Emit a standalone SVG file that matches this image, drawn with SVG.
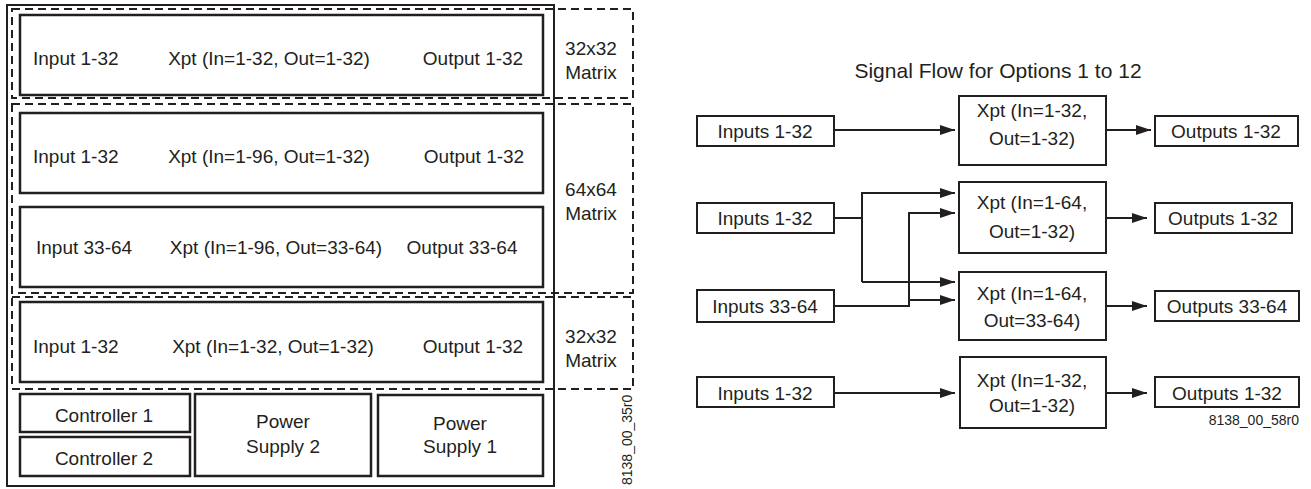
<svg xmlns="http://www.w3.org/2000/svg" width="1311" height="489" viewBox="0 0 1311 489">
<style>
text{font-family:"Liberation Sans",Arial,sans-serif;fill:#231f20}
.t{font-size:19px}
.c{text-anchor:middle}
.s{font-size:14px}
.box{fill:#fff;stroke:#231f20;stroke-width:2.5}
.frame{fill:none;stroke:#231f20;stroke-width:2}
.dash{fill:none;stroke:#231f20;stroke-width:2;stroke-dasharray:8 5}
.b{fill:#fff;stroke:#231f20;stroke-width:2}
.ln{fill:none;stroke:#231f20;stroke-width:2}
</style>
<defs>
<marker id="ah" markerWidth="15" markerHeight="10" refX="15" refY="5" orient="auto" markerUnits="userSpaceOnUse"><path d="M0,0 L15,5 L0,10 Z" fill="#231f20"/></marker>
</defs>
<rect width="1311" height="489" fill="#fff"/>

<!-- Left diagram -->
<g id="frame"><rect class="frame" x="7" y="5" width="547" height="481"/></g>
<g id="matrix1"><rect class="dash" x="12" y="9" width="621" height="89"/>
<text class="t c" x="591" y="55">32x32</text><text class="t c" x="591" y="79">Matrix</text></g>
<g id="matrix2"><rect class="dash" x="12" y="104" width="621" height="189"/>
<text class="t c" x="591" y="196">64x64</text><text class="t c" x="591" y="220">Matrix</text></g>
<g id="matrix3"><rect class="dash" x="12" y="297" width="621" height="92"/>
<text class="t c" x="591" y="343">32x32</text><text class="t c" x="591" y="367">Matrix</text></g>

<g id="row1"><rect class="box" x="20" y="15" width="523" height="80"/>
<text class="t" x="33" y="65">Input 1-32</text><text class="t c" x="269" y="65">Xpt (In=1-32, Out=1-32)</text><text class="t c" x="473" y="65">Output 1-32</text></g>
<g id="row2"><rect class="box" x="20" y="113" width="523" height="80"/>
<text class="t" x="33" y="163">Input 1-32</text><text class="t c" x="269" y="163">Xpt (In=1-96, Out=1-32)</text><text class="t c" x="474" y="163">Output 1-32</text></g>
<g id="row3"><rect class="box" x="20" y="207" width="523" height="80"/>
<text class="t" x="36" y="254">Input 33-64</text><text class="t c" x="276" y="254">Xpt (In=1-96, Out=33-64)</text><text class="t c" x="462" y="254">Output 33-64</text></g>
<g id="row4"><rect class="box" x="20" y="302" width="523" height="80"/>
<text class="t" x="33" y="353">Input 1-32</text><text class="t c" x="273" y="353">Xpt (In=1-32, Out=1-32)</text><text class="t c" x="473" y="353">Output 1-32</text></g>

<g id="controller1"><rect class="box" x="20" y="394" width="170" height="38"/><text class="t c" x="104" y="422">Controller 1</text></g>
<g id="controller2"><rect class="box" x="20" y="437" width="170" height="39"/><text class="t c" x="104" y="465">Controller 2</text></g>
<g id="ps2"><rect class="box" x="195" y="394" width="176" height="82"/><text class="t c" x="283" y="428">Power</text><text class="t c" x="283" y="453">Supply 2</text></g>
<g id="ps1"><rect class="box" x="378" y="395" width="165" height="81"/><text class="t c" x="460" y="430">Power</text><text class="t c" x="460" y="453">Supply 1</text></g>
<text class="s" transform="translate(632,485) rotate(-90)">8138_00_35r0</text>

<!-- Right diagram -->
<text id="title" style="font-size:21px" class="c" x="998" y="78">Signal Flow for Options 1 to 12</text>

<g id="connectors">
<line class="ln" x1="834" y1="130" x2="955" y2="130" marker-end="url(#ah)"/>
<line class="ln" x1="1106" y1="130" x2="1151" y2="130" marker-end="url(#ah)"/>
<polyline class="ln" points="834,218 862,218"/>
<polyline class="ln" points="862,282 862,193 955,193" marker-end="url(#ah)"/>
<line class="ln" x1="862" y1="282" x2="955" y2="282" marker-end="url(#ah)"/>
<polyline class="ln" points="834,306 909,306 909,213 955,213" marker-end="url(#ah)"/>
<line class="ln" x1="909" y1="300" x2="955" y2="300" marker-end="url(#ah)"/>
<line class="ln" x1="1106" y1="218" x2="1147" y2="218" marker-end="url(#ah)"/>
<line class="ln" x1="1106" y1="306" x2="1147" y2="306" marker-end="url(#ah)"/>
<line class="ln" x1="834" y1="393" x2="955" y2="393" marker-end="url(#ah)"/>
<line class="ln" x1="1106" y1="393" x2="1147" y2="393" marker-end="url(#ah)"/>
</g>

<g id="in1"><rect class="b" x="697" y="116" width="137" height="30"/><text class="t c" x="765" y="138">Inputs 1-32</text></g>
<g id="in2"><rect class="b" x="697" y="203" width="137" height="30"/><text class="t c" x="765" y="225">Inputs 1-32</text></g>
<g id="in3"><rect class="b" x="697" y="290" width="137" height="32"/><text class="t c" x="765" y="313">Inputs 33-64</text></g>
<g id="in4"><rect class="b" x="697" y="377" width="137" height="30"/><text class="t c" x="765" y="400">Inputs 1-32</text></g>

<g id="x1"><rect class="b" x="959" y="96" width="147" height="69"/><text class="t c" x="1032" y="117">Xpt (In=1-32,</text><text class="t c" x="1032" y="145">Out=1-32)</text></g>
<g id="x2"><rect class="b" x="959" y="182" width="147" height="71"/><text class="t c" x="1032" y="209">Xpt (In=1-64,</text><text class="t c" x="1032" y="238">Out=1-32)</text></g>
<g id="x3"><rect class="b" x="959" y="272" width="147" height="68"/><text class="t c" x="1032" y="300">Xpt (In=1-64,</text><text class="t c" x="1032" y="327">Out=33-64)</text></g>
<g id="x4"><rect class="b" x="960" y="357" width="146" height="71"/><text class="t c" x="1032" y="387">Xpt (In=1-32,</text><text class="t c" x="1032" y="412">Out=1-32)</text></g>

<g id="out1"><rect class="b" x="1155" y="116" width="143" height="30"/><text class="t c" x="1226" y="138">Outputs 1-32</text></g>
<g id="out2"><rect class="b" x="1155" y="203" width="137" height="30"/><text class="t c" x="1223" y="225">Outputs 1-32</text></g>
<g id="out3"><rect class="b" x="1155" y="291" width="144" height="30"/><text class="t c" x="1227" y="313">Outputs 33-64</text></g>
<g id="out4"><rect class="b" x="1155" y="377" width="144" height="30"/><text class="t c" x="1227" y="400">Outputs 1-32</text></g>
<text class="s" style="text-anchor:end" x="1299" y="425">8138_00_58r0</text>
</svg>
